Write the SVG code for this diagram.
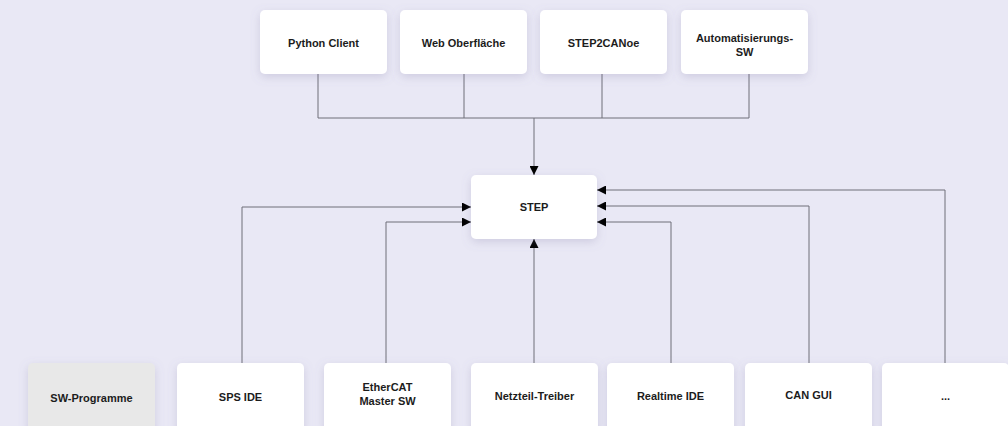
<svg xmlns="http://www.w3.org/2000/svg" width="1008" height="426" viewBox="0 0 1008 426">
<defs>
<filter id="sh" x="-20%" y="-30%" width="140%" height="170%">
<feDropShadow dx="0" dy="3" stdDeviation="5" flood-color="#7a76a0" flood-opacity="0.25"/>
</filter>
<marker id="arr" viewBox="0 0 10 10" refX="10" refY="5" markerWidth="9" markerHeight="9" markerUnits="userSpaceOnUse" orient="auto">
<path d="M0,0 L10,5 L0,10 z" fill="#000"/>
</marker>
<style>
.box{fill:#fff;filter:url(#sh)}
.grey{fill:#e8e8e8}
.t{font-family:"Liberation Sans",Arial,Helvetica,sans-serif;font-size:11px;font-weight:bold;fill:#1c1c1c;text-anchor:middle}
.c{fill:none;stroke:#6e6e78;stroke-width:1}
</style>
</defs>
<rect width="1008" height="426" fill="#e9e8f5"/>
<g id="connectors">
<path class="c" d="M318,74 V118 H534 V175" marker-end="url(#arr)"/>
<path class="c" d="M464,74 V118"/>
<path class="c" d="M602,74 V118"/>
<path class="c" d="M749,74 V118 H534"/>
<path class="c" d="M242,363 V207 H471" marker-end="url(#arr)"/>
<path class="c" d="M386,363 V222 H471" marker-end="url(#arr)"/>
<path class="c" d="M534,363 V239" marker-end="url(#arr)"/>
<path class="c" d="M671,363 V222 H597" marker-end="url(#arr)"/>
<path class="c" d="M809,363 V206 H597" marker-end="url(#arr)"/>
<path class="c" d="M945,363 V190 H597" marker-end="url(#arr)"/>
</g>
<g id="python-client"><rect class="box" x="260" y="10" width="127" height="64" rx="5"/><text class="t" x="323.5" y="47">Python Client</text></g>
<g id="web-oberflaeche"><rect class="box" x="400" y="10" width="127" height="64" rx="5"/><text class="t" x="463.5" y="47">Web Oberfläche</text></g>
<g id="step2canoe"><rect class="box" x="540" y="10" width="127" height="64" rx="5"/><text class="t" x="603.5" y="47">STEP2CANoe</text></g>
<g id="automatisierungs-sw"><rect class="box" x="681" y="10" width="127" height="64" rx="5"/><text class="t" x="744.5" y="41.5">Automatisierungs-</text><text class="t" x="744.5" y="55.5">SW</text></g>
<g id="step"><rect class="box" x="471" y="175" width="126" height="64" rx="5"/><text class="t" x="534" y="210.5">STEP</text></g>
<g id="sw-programme"><rect class="box grey" x="28" y="363" width="127" height="70" rx="5"/><text class="t" x="91.5" y="401.5">SW-Programme</text></g>
<g id="sps-ide"><rect class="box" x="177" y="363" width="127" height="70" rx="5"/><text class="t" x="240.5" y="401">SPS IDE</text></g>
<g id="ethercat-master-sw"><rect class="box" x="324" y="363" width="127" height="70" rx="5"/><text class="t" x="387.5" y="390.5">EtherCAT</text><text class="t" x="387.5" y="404.5">Master SW</text></g>
<g id="netzteil-treiber"><rect class="box" x="471" y="363" width="127" height="70" rx="5"/><text class="t" x="534.5" y="400">Netzteil-Treiber</text></g>
<g id="realtime-ide"><rect class="box" x="607" y="363" width="127" height="70" rx="5"/><text class="t" x="670.5" y="400">Realtime IDE</text></g>
<g id="can-gui"><rect class="box" x="745" y="363" width="127" height="70" rx="5"/><text class="t" x="808.5" y="399">CAN GUI</text></g>
<g id="more"><rect class="box" x="882" y="363" width="127" height="70" rx="5"/><text class="t" x="945.5" y="400">...</text></g>
</svg>
